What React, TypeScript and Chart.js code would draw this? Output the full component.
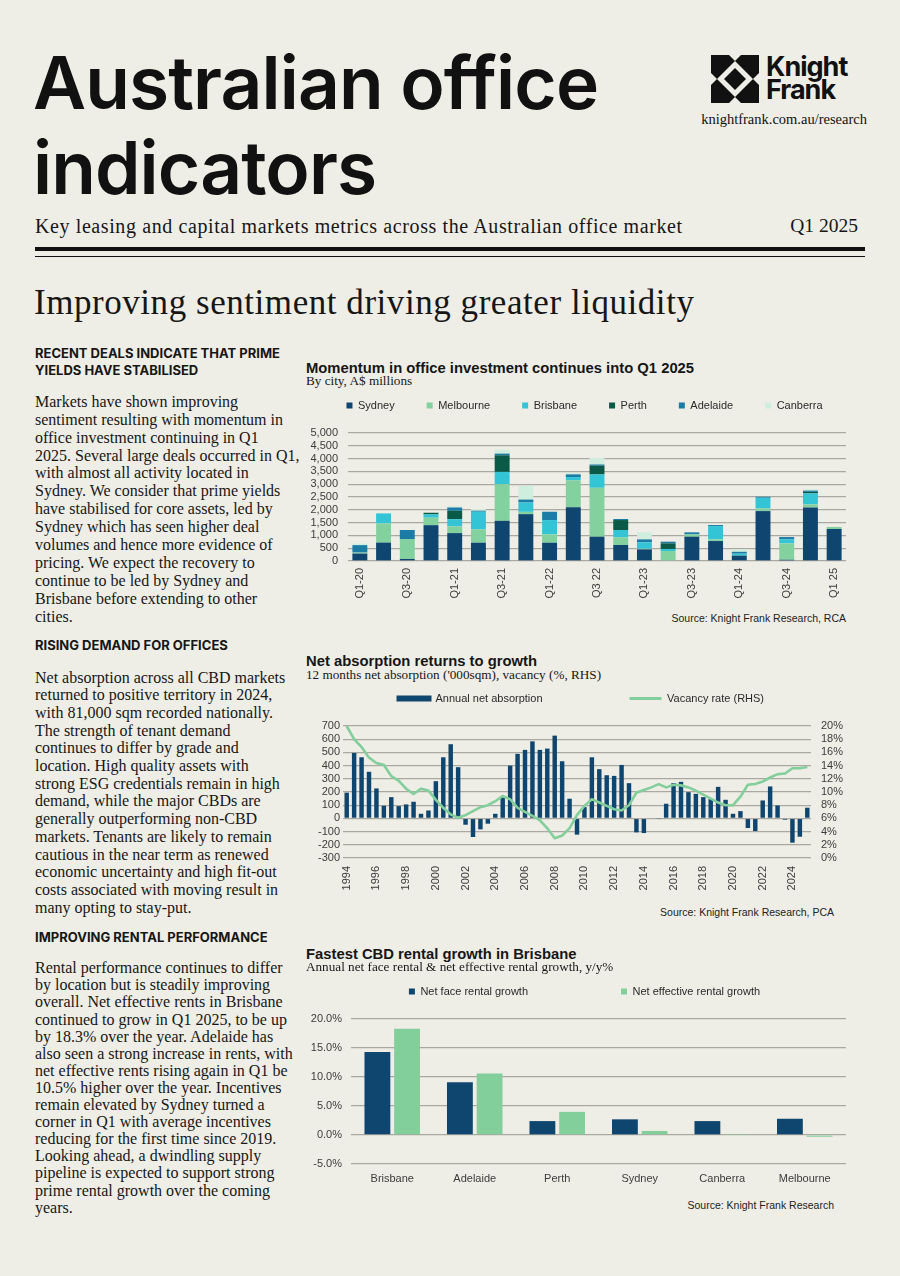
import React, { useEffect, useRef } from 'react';
import { Chart, registerables } from 'chart.js';

Chart.register(...registerables);

// ---------------- DATA ----------------
// Chart 1: office investment by city, A$ millions, quarterly
const quarters = ['Q1-20','Q2-20','Q3-20','Q4-20','Q1-21','Q2-21','Q3-21','Q4-21','Q1-22','Q2-22','Q3-22','Q4-22','Q1-23','Q2-23','Q3-23','Q4-23','Q1-24','Q2-24','Q3-24','Q4-24','Q1-25'];
const quarterTickLabels = ['Q1-20','Q3-20','Q1-21','Q3-21','Q1-22','Q3 22','Q1-23','Q3-23','Q1-24','Q3-24','Q1 25'];
const sydney    = [290, 720,  80, 1400, 1090, 715, 1570, 1830, 715, 2100,  950, 625, 455,   0, 950, 780, 210, 1950,  50, 2090, 1250];
const melbourne = [ 40, 750, 780,  290,  260, 520, 1430,   90, 325, 1050, 1910, 300,  25, 390,  90,  65,   0,  105, 640,  120,   80];
const brisbane  = [  0, 390,   0,  130,  285, 690,  480,  365, 560,  130,  520, 285, 250,  80,   0, 520,  75,  415, 155,  430,    0];
const perth     = [  0,   0,   0,   65,  325,   0,  650,    0,   0,    0,  340, 390,   0, 220,   0,   0,   0,    0,   0,   60,    0];
const adelaide  = [290,   0, 350,    0,  130,  40,   65,  115, 325,  105,   50,  40, 115,  65,  80,  40,  75,   40,  90,   50,    0];
const canberra  = [ 60,   0,   0,    0,   40,  70,  155,  530,   0,   45,  260,   0, 275,   0,   0,   0,  90,    0,   0,   60,    0];
const investTicks = [0, 500, 1000, 1500, 2000, 2500, 3000, 3500, 4000, 4500, 5000];

// Chart 2: net absorption ('000 sqm) and vacancy (%), half-yearly
const halfYears = [
  'Jan-94','Jul-94','Jan-95','Jul-95','Jan-96','Jul-96','Jan-97','Jul-97','Jan-98','Jul-98',
  'Jan-99','Jul-99','Jan-00','Jul-00','Jan-01','Jul-01','Jan-02','Jul-02','Jan-03','Jul-03',
  'Jan-04','Jul-04','Jan-05','Jul-05','Jan-06','Jul-06','Jan-07','Jul-07','Jan-08','Jul-08',
  'Jan-09','Jul-09','Jan-10','Jul-10','Jan-11','Jul-11','Jan-12','Jul-12','Jan-13','Jul-13',
  'Jan-14','Jul-14','Jan-15','Jul-15','Jan-16','Jul-16','Jan-17','Jul-17','Jan-18','Jul-18',
  'Jan-19','Jul-19','Jan-20','Jul-20','Jan-21','Jul-21','Jan-22','Jul-22','Jan-23','Jul-23',
  'Jan-24','Jul-24','Jan-25'
];
const yearTickLabels = ['1994','1996','1998','2000','2002','2004','2006','2008','2010','2012','2014','2016','2018','2020','2022','2024'];
const absorption = [195, 496, 463, 353, 227, 96, 161, 93, 106, 126, 35, 60, 282, 463, 562, 388, -48, -141, -83, -40,
  35, 159, 400, 489, 519, 584, 519, 529, 627, 433, 149, -123, 86, 463, 373, 327, 322, 405, 267, -106,
  -111, 5, -3, 111, 267, 277, 199, 186, 161, 146, 239, 141, 35, 55, -73, -96, 136, 242, 98, -10,
  -184, -139, 81];
const vacancy = [20.0, 18.0, 16.8, 15.2, 14.4, 14.1, 12.4, 11.7, 10.5, 9.7, 10.5, 10.2, 8.8, 7.6, 6.6, 6.1, 6.5, 7.1, 7.7, 8.0,
  8.6, 9.4, 8.9, 7.6, 7.0, 6.4, 5.7, 4.5, 3.0, 3.4, 4.5, 6.5, 7.9, 8.9, 8.4, 7.9, 7.4, 7.2, 8.0, 9.9,
  10.3, 10.7, 11.2, 10.7, 11.1, 11.0, 10.7, 10.2, 9.6, 9.0, 8.4, 8.0, 8.0, 9.3, 11.1, 11.2, 11.6, 12.2, 12.7, 12.8,
  13.6, 13.6, 13.8];

// Chart 3: rental growth y/y %
const cities = ['Brisbane', 'Adelaide', 'Perth', 'Sydney', 'Canberra', 'Melbourne'];
const netFaceGrowth = [14.3, 9.1, 2.4, 2.7, 2.4, 2.8];
const netEffectiveGrowth = [18.3, 10.6, 4.0, 0.7, 0.05, -0.3];

// ---------------- STYLE ----------------
const BG = '#efeee6';
const INK = '#161616';
const TICK = '#3c3c3c';
const GRID = '#a9a9a2';
const C_SYD = '#0f4670';
const C_MEL = '#84d1a0';
const C_BRI = '#33c5d5';
const C_PER = '#0b5a47';
const C_ADE = '#1b7da5';
const C_CAN = '#cfeedd';
const NAVY = '#0f4670';
const GREEN = '#82cf9b';

const SANS = '"Liberation Sans", Arial, sans-serif';
const SERIF = '"Liberation Serif", "Times New Roman", serif';
const DISPLAY = 'Inter, "Liberation Sans", sans-serif';

Chart.defaults.font.family = SANS;
Chart.defaults.font.size = 11;
Chart.defaults.color = TICK;

const fixLegendHeight = {
  id: 'fixLegendHeight',
  beforeUpdate(chart: any, _args: any, opts: any) {
    const lg = chart.legend;
    if (lg && !lg.__patched) {
      const orig = lg.fit;
      lg.fit = function () {
        orig.call(this);
        if (opts && opts.height != null) this.height = opts.height;
      };
      lg.__patched = true;
    }
  },
};

function dummyRight(width: number) {
  return {
    type: 'linear',
    position: 'right',
    display: true,
    grid: { display: false, drawTicks: false },
    border: { display: false },
    ticks: { display: false },
    afterFit: (s: any) => { s.width = width; },
  };
}

function investmentConfig(): any {
  return {
    type: 'bar',
    data: {
      labels: quarters,
      datasets: [
        { label: 'Sydney', data: sydney, backgroundColor: C_SYD },
        { label: 'Melbourne', data: melbourne, backgroundColor: C_MEL },
        { label: 'Brisbane', data: brisbane, backgroundColor: C_BRI },
        { label: 'Perth', data: perth, backgroundColor: C_PER },
        { label: 'Adelaide', data: adelaide, backgroundColor: C_ADE },
        { label: 'Canberra', data: canberra, backgroundColor: C_CAN },
      ],
    },
    options: {
      responsive: false,
      animation: false,
      devicePixelRatio: 1,
      layout: { padding: { left: 9, right: 0, top: 0, bottom: 0 } },
      datasets: { bar: { barPercentage: 0.63, categoryPercentage: 1, borderWidth: 0 } },
      scales: {
        x: {
          stacked: true,
          grid: { display: false, drawTicks: false },
          border: { display: false },
          ticks: {
            autoSkip: false, minRotation: 90, maxRotation: 90, padding: 7, color: TICK,
            callback: (_v: any, i: number) => (i % 2 === 0 ? quarterTickLabels[i / 2] : ''),
          },
          afterFit: (s: any) => { s.height = 44; },
        },
        y: {
          stacked: true,
          min: investTicks[0],
          max: investTicks[investTicks.length - 1],
          grid: { color: GRID, lineWidth: 1.3, drawTicks: false },
          border: { display: false },
          ticks: { stepSize: 500, autoSkip: false, padding: 10, color: TICK, callback: (v: any) => Number(v).toLocaleString('en-US') },
          afterFit: (s: any) => { s.width = 39; },
        },
        yR: dummyRight(14),
      },
      plugins: {
        legend: {
          position: 'top', align: 'center',
          labels: { boxWidth: 6, boxHeight: 6, padding: 32, color: '#2a2a2a', font: { size: 11 } },
        },
        tooltip: { enabled: false },
        fixLegendHeight: { height: 65 },
      },
    },
    plugins: [fixLegendHeight],
  };
}

function absorptionConfig(): any {
  return {
    type: 'bar',
    data: {
      labels: halfYears,
      datasets: [
        { type: 'line', label: 'Vacancy rate (RHS)', data: vacancy, yAxisID: 'y2', borderColor: GREEN, borderWidth: 2.6, pointRadius: 0, tension: 0, fill: false },
        { type: 'bar', label: 'Annual net absorption', data: absorption, yAxisID: 'y', backgroundColor: NAVY, borderWidth: 0, barPercentage: 0.6, categoryPercentage: 1 },
      ],
    },
    options: {
      responsive: false,
      animation: false,
      devicePixelRatio: 1,
      layout: { padding: { left: 11, right: 0, top: 0, bottom: 0 } },
      scales: {
        x: {
          grid: { display: false, drawTicks: false },
          border: { display: false },
          ticks: {
            autoSkip: false, minRotation: 90, maxRotation: 90, padding: 8, color: TICK,
            callback: (_v: any, i: number) => (i % 4 === 0 ? yearTickLabels[i / 4] : ''),
          },
          afterFit: (s: any) => { s.height = 40; },
        },
        y: {
          min: -300, max: 700,
          grid: { color: GRID, lineWidth: 1.3, drawTicks: false },
          border: { display: false },
          ticks: { stepSize: 100, autoSkip: false, padding: 3, color: TICK },
          afterFit: (s: any) => { s.width = 32; },
        },
        y2: {
          type: 'linear', position: 'right', min: 0, max: 20,
          grid: { display: false, drawTicks: false },
          border: { display: false },
          ticks: { stepSize: 2, autoSkip: false, padding: 10, color: TICK, callback: (v: any) => `${v}%` },
          afterFit: (s: any) => { s.width = 51; },
        },
      },
      plugins: {
        legend: {
          position: 'top', align: 'start',
          labels: {
            boxWidth: 32, boxHeight: 3, padding: 87, color: '#2a2a2a', font: { size: 11 },
            generateLabels: () => [
              { text: 'Annual net absorption', fillStyle: NAVY, strokeStyle: NAVY, lineWidth: 3, hidden: false, datasetIndex: 1, fontColor: '#2a2a2a' },
              { text: 'Vacancy rate (RHS)', fillStyle: GREEN, strokeStyle: GREEN, lineWidth: 0, hidden: false, datasetIndex: 0, fontColor: '#2a2a2a' },
            ],
          },
        },
        tooltip: { enabled: false },
        fixLegendHeight: { height: 120 },
      },
    },
    plugins: [fixLegendHeight],
  };
}

function rentalConfig(): any {
  return {
    type: 'bar',
    data: {
      labels: cities,
      datasets: [
        { label: 'Net face rental growth', data: netFaceGrowth, backgroundColor: NAVY },
        { label: 'Net effective rental growth', data: netEffectiveGrowth, backgroundColor: GREEN },
      ],
    },
    options: {
      responsive: false,
      animation: false,
      devicePixelRatio: 1,
      layout: { padding: { left: 9, right: 0, top: 0, bottom: 0 } },
      datasets: { bar: { barPercentage: 0.87, categoryPercentage: 0.72, borderWidth: 0 } },
      scales: {
        x: {
          grid: { display: false, drawTicks: false },
          border: { display: false },
          ticks: { padding: 8, color: TICK },
          afterFit: (s: any) => { s.height = 25; },
        },
        y: {
          min: -5, max: 20,
          grid: { color: GRID, lineWidth: 1.3, drawTicks: false },
          border: { display: false },
          ticks: { stepSize: 5, autoSkip: false, padding: 9, color: TICK, callback: (v: any) => `${Number(v).toFixed(1)}%` },
          afterFit: (s: any) => { s.width = 42; },
        },
        yR: dummyRight(14),
      },
      plugins: {
        legend: {
          position: 'top', align: 'center',
          labels: { boxWidth: 6, boxHeight: 6, padding: 93, color: '#2a2a2a', font: { size: 11 } },
        },
        tooltip: { enabled: false },
        fixLegendHeight: { height: 126 },
      },
    },
    plugins: [fixLegendHeight],
  };
}

function ChartCanvas(props: { left: number; top: number; width: number; height: number; make: () => any }) {
  const ref = useRef<HTMLCanvasElement>(null);
  useEffect(() => {
    const chart = new Chart(ref.current as HTMLCanvasElement, props.make());
    return () => chart.destroy();
  }, []);
  return (
    <canvas
      ref={ref}
      width={props.width}
      height={props.height}
      style={{ position: 'absolute', left: props.left, top: props.top, width: props.width, height: props.height }}
    />
  );
}

function Abs(props: { left?: number; right?: number; top: number; style?: any; children: any }) {
  return (
    <div style={{ position: 'absolute', left: props.left, right: props.right, top: props.top, whiteSpace: 'nowrap', color: INK, ...props.style }}>
      {props.children}
    </div>
  );
}

function Lines(props: { left: number; top: number; lh: number; lines: string[]; style: any }) {
  return (
    <div style={{ position: 'absolute', left: props.left, top: props.top, whiteSpace: 'nowrap', color: INK, lineHeight: `${props.lh}px`, ...props.style }}>
      {props.lines.map((l, i) => (<div key={i}>{l}</div>))}
    </div>
  );
}

const body1 = [
  'Markets have shown improving',
  'sentiment resulting with momentum in',
  'office investment continuing in Q1',
  '2025. Several large deals occurred in Q1,',
  'with almost all activity located in',
  'Sydney. We consider that prime yields',
  'have stabilised for core assets, led by',
  'Sydney which has seen higher deal',
  'volumes and hence more evidence of',
  'pricing. We expect the recovery to',
  'continue to be led by Sydney and',
  'Brisbane before extending to other',
  'cities.',
];
const body2 = [
  'Net absorption across all CBD markets',
  'returned to positive territory in 2024,',
  'with 81,000 sqm recorded nationally.',
  'The strength of tenant demand',
  'continues to differ by grade and',
  'location. High quality assets with',
  'strong ESG credentials remain in high',
  'demand, while the major CBDs are',
  'generally outperforming non-CBD',
  'markets. Tenants are likely to remain',
  'cautious in the near term as renewed',
  'economic uncertainty and high fit-out',
  'costs associated with moving result in',
  'many opting to stay-put.',
];
const body3 = [
  'Rental performance continues to differ',
  'by location but is steadily improving',
  'overall. Net effective rents in Brisbane',
  'continued to grow in Q1 2025, to be up',
  'by 18.3% over the year. Adelaide has',
  'also seen a strong increase in rents, with',
  'net effective rents rising again in Q1 be',
  '10.5% higher over the year. Incentives',
  'remain elevated by Sydney turned a',
  'corner in Q1 with average incentives',
  'reducing for the first time since 2019.',
  'Looking ahead, a dwindling supply',
  'pipeline is expected to support strong',
  'prime rental growth over the coming',
  'years.',
];

const headStyle = { fontFamily: DISPLAY, fontWeight: 700, fontSize: 13, letterSpacing: '0px' };
const bodyStyle = { fontFamily: SERIF, fontSize: 16 };
const chartTitle = { fontFamily: SANS, fontWeight: 700, fontSize: 14.8, lineHeight: '16px' };
const chartSub = { fontFamily: SERIF, fontSize: 13.2, lineHeight: '15px' };
const sourceStyle = { fontFamily: SANS, fontSize: 10.5, color: '#222' };

function Logo() {
  return (
    <svg width={48} height={48} viewBox="0 0 48 48" style={{ position: 'absolute', left: 711, top: 55 }}>
      <polygon points="0,0 18,0 24,6 6,24 0,18" fill="#111" />
      <polygon points="48,0 30,0 24,6 42,24 48,18" fill="#111" />
      <polygon points="0,48 18,48 24,42 6,24 0,30" fill="#111" />
      <polygon points="48,48 30,48 24,42 42,24 48,30" fill="#111" />
      <polygon points="24,13 35,24 24,35 13,24" fill="#111" />
    </svg>
  );
}

export default function App() {
  useEffect(() => {
    document.body.style.margin = '0';
    document.body.style.background = BG;
  }, []);
  return (
    <div style={{ position: 'relative', width: 900, height: 1276, background: BG, overflow: 'hidden' }}>
      <Abs left={33} top={40} style={{ fontFamily: DISPLAY, fontWeight: 600, fontSize: 73, lineHeight: '85px', letterSpacing: '-0.9px', color: '#111' }}>
        Australian office<br />indicators
      </Abs>
      <Logo />
      <Abs left={766} top={55} style={{ fontFamily: DISPLAY, fontWeight: 700, fontSize: 27, lineHeight: '23px', letterSpacing: '-1px', color: '#111' }}>
        Knight<br />Frank
      </Abs>
      <Abs right={33} top={111} style={{ fontFamily: SERIF, fontSize: 14.5, lineHeight: '17px', color: '#111' }}>
        knightfrank.com.au/research
      </Abs>
      <Abs left={35} top={215} style={{ fontFamily: SERIF, fontSize: 20, lineHeight: '22px', letterSpacing: '0.6px' }}>
        Key leasing and capital markets metrics across the Australian office market
      </Abs>
      <Abs right={42} top={215} style={{ fontFamily: SERIF, fontSize: 19.5, lineHeight: '22px' }}>
        Q1 2025
      </Abs>
      <div style={{ position: 'absolute', left: 35, top: 247, width: 830, height: 4, background: '#111' }} />
      <div style={{ position: 'absolute', left: 35, top: 256, width: 830, height: 1, background: '#111' }} />
      <Abs left={34} top={283} style={{ fontFamily: SERIF, fontSize: 35, lineHeight: '40px', letterSpacing: '0.55px' }}>
        Improving sentiment driving greater liquidity
      </Abs>

      <Lines left={35} top={344.5} lh={17} lines={['RECENT DEALS INDICATE THAT PRIME', 'YIELDS HAVE STABILISED']} style={headStyle} />
      <Lines left={35} top={392.8} lh={17.9} lines={body1} style={bodyStyle} />
      <Lines left={35} top={636.5} lh={17} lines={['RISING DEMAND FOR OFFICES']} style={headStyle} />
      <Lines left={35} top={668.5} lh={17.7} lines={body2} style={bodyStyle} />
      <Lines left={35} top={928.5} lh={17} lines={['IMPROVING RENTAL PERFORMANCE']} style={headStyle} />
      <Lines left={35} top={959.3} lh={17.1} lines={body3} style={bodyStyle} />

      <Abs left={306} top={360} style={chartTitle}>Momentum in office investment continues into Q1 2025</Abs>
      <Abs left={306} top={373} style={chartSub}>By city, A$ millions</Abs>
      <ChartCanvas left={300} top={368} width={560} height={237} make={investmentConfig} />
      <Abs right={54} top={612} style={sourceStyle}>Source: Knight Frank Research, RCA</Abs>

      <Abs left={306} top={653} style={chartTitle}>Net absorption returns to growth</Abs>
      <Abs left={306} top={667} style={chartSub}>12 months net absorption ('000sqm), vacancy (%, RHS)</Abs>
      <ChartCanvas left={300} top={606} width={562} height={292} make={absorptionConfig} />
      <Abs right={66} top={906} style={sourceStyle}>Source: Knight Frank Research, PCA</Abs>

      <Abs left={306} top={946} style={chartTitle}>Fastest CBD rental growth in Brisbane</Abs>
      <Abs left={306} top={959} style={chartSub}>Annual net face rental &amp; net effective rental growth, y/y%</Abs>
      <ChartCanvas left={300} top={893} width={560} height={296} make={rentalConfig} />
      <Abs right={66} top={1199} style={sourceStyle}>Source: Knight Frank Research</Abs>
    </div>
  );
}
